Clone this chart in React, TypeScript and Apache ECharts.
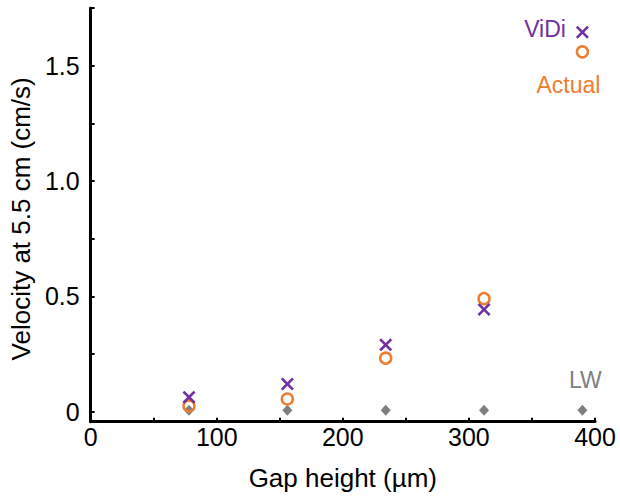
import React, { useEffect, useRef } from "react";
import * as echarts from "echarts";

const gapHeights = [78, 156, 234, 312, 390];
const vidi = [0.063, 0.12, 0.29, 0.443, 1.645];
const actual = [0.025, 0.055, 0.232, 0.49, 1.56];
const lw = [0.006, 0.006, 0.006, 0.006, 0.006];

const xTickValues = [0, 50, 100, 150, 200, 250, 300, 350, 400];
const xLabelValues = [0, 100, 200, 300, 400];
const yTickValues = [0, 0.25, 0.5, 0.75, 1.0, 1.25, 1.5, 1.75];
const yLabelValues = [0, 0.5, 1.0, 1.5];

const PURPLE = "#7030A0";
const ORANGE = "#ED7D31";
const GRAY = "#7F7F7F";
const FONT = '"Liberation Sans", Arial, sans-serif';

const X_PATH =
  "path://M0,1.7L1.7,0L6,4.3L10.3,0L12,1.7L7.7,6L12,10.3L10.3,12L6,7.7L1.7,12L0,10.3L4.3,6Z";

export default function App() {
  const ref = useRef<HTMLDivElement>(null);
  useEffect(() => {
    if (!ref.current) return;
    const chart = echarts.init(ref.current, null, { renderer: "svg" });
    const last = gapHeights.length - 1;
    const mk = (vals: number[], labelCfg: any) =>
      vals.map((v, i) =>
        i === last && labelCfg
          ? { value: [gapHeights[i], v], label: labelCfg }
          : { value: [gapHeights[i], v] }
      );
    const axisCommon = {
      axisLine: { show: true, onZero: false, lineStyle: { color: "#000", width: 3 } },
      axisTick: { show: true, inside: true, length: 4, lineStyle: { color: "#000", width: 2 } },
      splitLine: { show: false },
    };
    chart.setOption({
      animation: false,
      backgroundColor: "#fff",
      grid: { left: 84, right: 25, top: 8, bottom: 79.3, containLabel: false },
      xAxis: {
        type: "value",
        min: 0,
        max: 400,
        ...axisCommon,
        axisTick: { ...axisCommon.axisTick, customValues: xTickValues },
        axisLabel: {
          customValues: xLabelValues,
          color: "#000",
          fontSize: 25,
          fontFamily: FONT,
          margin: 3,
        },
        name: "Gap height (µm)",
        nameLocation: "middle",
        nameGap: 43,
        nameTextStyle: { color: "#000", fontSize: 26, fontFamily: FONT },
      },
      yAxis: {
        type: "value",
        min: -0.0434,
        max: 1.75,
        ...axisCommon,
        axisTick: { ...axisCommon.axisTick, customValues: yTickValues },
        axisLabel: {
          customValues: yLabelValues,
          color: "#000",
          fontSize: 25,
          fontFamily: FONT,
          margin: 11,
          formatter: (v: number) => (v === 0 ? "0" : v.toFixed(1)),
        },
        name: "Velocity at 5.5 cm (cm/s)",
        nameLocation: "middle",
        nameGap: 53,
        nameTextStyle: { color: "#000", fontSize: 26, fontFamily: FONT, padding: [0, 8, 0, 0] },
      },
      series: [
        {
          name: "LW",
          type: "scatter",
          symbol: "diamond",
          symbolSize: [10, 11],
          itemStyle: { color: GRAY, opacity: 1 },
          data: mk(lw, {
            show: true,
            formatter: "LW",
            position: "top",
            distance: 13,
            offset: [3, 0],
            color: "#808080",
            fontSize: 23,
            fontFamily: FONT,
          }),
          z: 1,
        },
        {
          name: "Actual",
          type: "scatter",
          symbol: "circle",
          symbolSize: 11,
          itemStyle: { color: "rgba(255,255,255,0)", borderColor: ORANGE, borderWidth: 2.5, opacity: 1 },
          data: mk(actual, {
            show: true,
            formatter: "Actual",
            position: "bottom",
            distance: 15,
            offset: [-14, 0],
            color: ORANGE,
            fontSize: 23,
            fontFamily: FONT,
          }),
          z: 2,
        },
        {
          name: "ViDi",
          type: "scatter",
          symbol: X_PATH,
          symbolSize: 13,
          itemStyle: { color: PURPLE, opacity: 1 },
          data: mk(vidi, {
            show: true,
            formatter: "ViDi",
            position: "left",
            distance: 10,
            offset: [0, -3],
            color: PURPLE,
            fontSize: 23,
            fontFamily: FONT,
          }),
          z: 3,
        },
      ],
    });
    return () => chart.dispose();
  }, []);
  return (
    <div
      ref={ref}
      style={{ position: "fixed", left: 0, top: 0, width: 620, height: 501 }}
    />
  );
}
